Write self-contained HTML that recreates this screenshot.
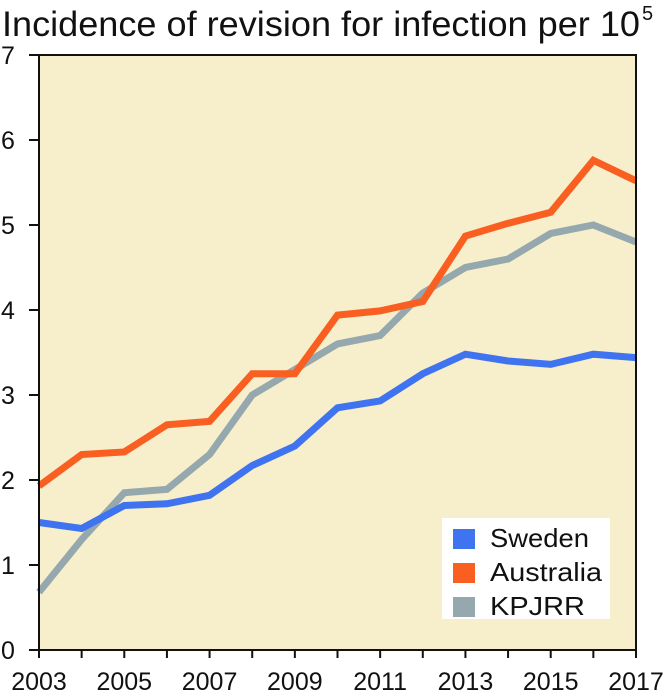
<!DOCTYPE html>
<html><head><meta charset="utf-8"><style>
body{margin:0;background:#fff;}
svg{display:block;font-family:"Liberation Sans",Arial,sans-serif;}
</style></head><body>
<svg id="chart" width="664" height="697" viewBox="0 0 664 697">
<text x="2" y="36" font-size="35" fill="#111" textLength="638" lengthAdjust="spacingAndGlyphs">Incidence of revision for infection per 10</text>
<text x="642" y="20" font-size="20" fill="#111">5</text>
<rect x="39" y="55" width="597" height="595" fill="#f7efcb"/>
<g id="series"></g>
<path d="M39 55 H636 V650 M39 55 V650 H636" fill="none" stroke="#111" stroke-width="2"/>
<g id="ticks"></g>
<rect x="442" y="518" width="168" height="101" fill="#fff"/>
<g id="legend"></g>
</svg>
<script>
const years=[2003,2004,2005,2006,2007,2008,2009,2010,2011,2012,2013,2014,2015,2016,2017];
const sweden=[1.5,1.43,1.7,1.72,1.82,2.17,2.4,2.85,2.93,3.25,3.48,3.4,3.36,3.48,3.44];
const australia=[1.93,2.3,2.33,2.65,2.69,3.25,3.25,3.94,3.99,4.1,4.87,5.02,5.15,5.76,5.52];
const kpjrr=[0.68,1.3,1.85,1.89,2.3,3.0,3.3,3.6,3.7,4.2,4.5,4.6,4.9,5.0,4.8];
const yTicks=[0,1,2,3,4,5,6,7];
const xLabels=[2003,2005,2007,2009,2011,2013,2015,2017];
const seriesNames=["Sweden","Australia","KPJRR"];
const NS="http://www.w3.org/2000/svg";
const X=y=>39+(y-2003)*(597/14);
const Y=v=>650-v*85;
function mk(t,a,p){const e=document.createElementNS(NS,t);for(const k in a)e.setAttribute(k,a[k]);p.appendChild(e);return e;}
const tk=document.getElementById('ticks');
yTicks.forEach(v=>{
 const l=mk('line',{x1:29,x2:39,y1:Y(v),y2:Y(v),stroke:'#111','stroke-width':2},tk);
 
 
 const t=mk('text',{x:1,y:Y(v)+9,'font-size':25,fill:'#111'},tk);t.textContent=v;
 
 
});
years.forEach(y=>{
 const l=mk('line',{x1:X(y),x2:X(y),y1:650,y2:658,stroke:'#111','stroke-width':2},tk);
 
 
});
xLabels.forEach(y=>{
 const t=mk('text',{x:X(y),y:690,'font-size':25,fill:'#111','text-anchor':'middle'},tk);t.textContent=y;
 
 
});
const colors=["#3f73f0","#fa5f22","#94a8ae"];
const data=[sweden,australia,kpjrr];
const sg=document.getElementById('series');
[2,1,0].forEach(i=>{
 const d=data[i].map((v,j)=>(j?'L':'M')+X(years[j])+' '+Y(v)).join(' ');
 const p=mk('path',{d:d,fill:'none',stroke:colors[i],'stroke-width':7,'stroke-linejoin':'miter'},sg);
 
 
});
const lg=document.getElementById('legend');
const lw=[99,112,95];
seriesNames.forEach((n,i)=>{
 const r=mk('rect',{x:453,y:529+i*34,width:22,height:20,fill:colors[i]},lg);
 
 
 const t=mk('text',{x:490,y:547+i*34,'font-size':26,fill:'#111',textLength:lw[i],lengthAdjust:'spacingAndGlyphs'},lg);t.textContent=n;
 
 
});
</script>
</body></html>
